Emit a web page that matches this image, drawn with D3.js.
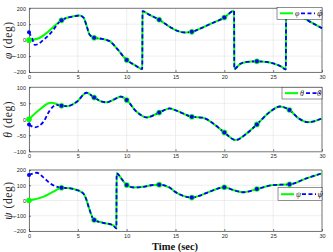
<!DOCTYPE html>
<html><head><meta charset="utf-8">
<script src="https://cdn.jsdelivr.net/npm/d3@7"></script>
<style>
body{margin:0;background:#fff;}
svg{display:block;}
.tick text{font-family:"Liberation Sans",Arial,sans-serif;font-size:5.5px;fill:#262626;}
</style></head><body>
<svg id="c" width="333" height="252"></svg>
<script>
// ---- data ----
const xTicks = [0,5,10,15,20,25,30];
const markerTimes = [0,3.33,6.67,10,13.33,16.67,20,23.33,26.67];

const phiTicks = [-200,-100,0,100,200];
const phiActualStart = [[0,0],[1,12],[2,55],[2.8,100]];
const phiDesiredStart = [[0,50],[0.3,12],[0.6,-30],[1,-22],[1.5,3],[2.5,65],[2.9,100]];
const phiShared = [[3.33,125],[4,142],[4.6,150],[5.2,155],[5.6,140],[5.9,90],[6.2,35],[6.67,15],[7.5,8],[8.3,-8],[9.1,-60],[10,-125],[10.8,-155],[11.6,-182],[11.62,182],[12.3,160],[13.33,128],[14.5,80],[15.2,58],[16,48],[16.67,52],[17.5,72],[18.5,100],[20,142],[21,184],[21.02,-182],[21.6,-150],[22.3,-137],[23.33,-133],[24.3,-137],[25,-146],[25.8,-165],[26.3,-184],[26.32,182],[26.67,172],[27.9,146],[29,108],[30,75]];

const thetaTicks = [-100,-50,0,50,100];
const thetaActualStart = [[0,0],[1,28],[2,50],[2.3,52],[2.8,48]];
const thetaDesiredStart = [[0,-16],[0.6,-25],[1.5,-7],[2.15,29],[2.8,45]];
const thetaShared = [[3.33,42],[3.9,41],[4.9,55],[5.9,83],[6.67,68],[7.3,57],[7.95,53],[8.7,62],[9.4,71],[10,60],[11,24],[12.05,6],[13.33,21],[14.4,34],[15.1,27],[16.67,8],[17.8,5],[18.85,-13],[20,-41],[21.15,-65],[22.3,-44],[23.33,-16],[24.7,24],[25.7,40],[26.67,29],[27.6,3],[28.6,-9],[30,3]];

const psiTicks = [-200,-100,0,100,200];
const psiActualStart = [[0,0],[1.5,25],[2.5,58]];
const psiDesiredStart = [[0,167],[0.8,182],[1.5,150],[2.15,113],[2.8,91]];
const psiShared = [[3.33,84],[4.2,80],[4.9,69],[5.55,47],[5.85,10],[6.1,-41],[6.67,-128],[7.5,-145],[8.6,-162],[8.95,-183],[8.97,178],[9.5,140],[10,101],[10.65,86],[11.7,90],[12.5,100],[13.33,104],[14.4,85],[14.8,64],[15.8,30],[16.67,19],[17.5,32],[18.5,58],[20,87],[20.9,69],[21.9,54],[23.33,75],[25,101],[26.67,106],[28.4,145],[30,178]];

const yLabels = ["\u03C6","\u03B8","\u03C8"];
const xLabel = "Time (sec)";

// ---- drawing ----
const svg = d3.select("#c");
const x = d3.scaleLinear().domain([0,30]).range([29,322]);
const panels = [
  {top:8.3, bottom:72, domain:[-200,200], ticks:phiTicks, act:phiActualStart.concat(phiShared), des:phiDesiredStart.concat(phiShared), sym:yLabels[0], leg:{x:277,y:7.3,w:45,h:12}},
  {top:87.3, bottom:151.3, domain:[-100,100], ticks:thetaTicks, act:thetaActualStart.concat(thetaShared), des:thetaDesiredStart.concat(thetaShared), sym:yLabels[1], leg:{x:282,y:87.3,w:40,h:11.7}},
  {top:170, bottom:231, domain:[-200,200], ticks:psiTicks, act:psiActualStart.concat(psiShared), des:psiDesiredStart.concat(psiShared), sym:yLabels[2], leg:{x:278,y:187.7,w:44,h:13}}
];

panels.forEach(p=>{
  const y = d3.scaleLinear().domain(p.domain).range([p.bottom,p.top]);
  const g = svg.append("g");
  g.append("g").selectAll("line").data(xTicks).join("line")
    .attr("x1",d=>x(d)).attr("x2",d=>x(d)).attr("y1",p.top).attr("y2",p.bottom)
    .attr("stroke","#e3e3e3").attr("stroke-width",0.6);
  g.append("g").selectAll("line").data(p.ticks).join("line")
    .attr("x1",x(0)).attr("x2",x(30)).attr("y1",d=>y(d)).attr("y2",d=>y(d))
    .attr("stroke","#e3e3e3").attr("stroke-width",0.6);
  const ax = g.append("g").attr("transform",`translate(0,${p.bottom})`)
    .call(d3.axisBottom(x).tickValues(xTicks).tickSizeInner(-2).tickSizeOuter(0).tickPadding(3));
  const ay = g.append("g").attr("transform",`translate(${x(0)},0)`)
    .call(d3.axisLeft(y).tickValues(p.ticks).tickSizeInner(-2).tickSizeOuter(0).tickPadding(3));
  [ax,ay].forEach(a=>{a.selectAll("path,line").attr("stroke","#262626").attr("stroke-width",0.6);});
  g.append("line").attr("x1",x(0)).attr("x2",x(30)).attr("y1",p.top).attr("y2",p.top).attr("stroke","#262626").attr("stroke-width",0.6);
  g.append("line").attr("x1",x(30)).attr("x2",x(30)).attr("y1",p.top).attr("y2",p.bottom).attr("stroke","#262626").attr("stroke-width",0.6);

  const line = d3.line().x(d=>x(d[0])).y(d=>y(d[1])).curve(d3.curveMonotoneX);
  g.append("path").attr("d",line(p.act)).attr("fill","none").attr("stroke","#00ff00").attr("stroke-width",2);
  g.append("path").attr("d",line(p.des)).attr("fill","none").attr("stroke","#0000ff").attr("stroke-width",1.8).attr("stroke-dasharray","4,2.5");
  g.append("g").selectAll("circle").data(p.act.filter(d=>markerTimes.includes(d[0]))).join("circle")
    .attr("cx",d=>x(d[0])).attr("cy",d=>y(d[1])).attr("r",2.8).attr("fill","#00ff00");
  g.append("g").selectAll("circle").data(p.des.filter(d=>markerTimes.includes(d[0]))).join("circle")
    .attr("cx",d=>x(d[0])).attr("cy",d=>y(d[1])).attr("r",2).attr("fill","#0000ff");

  const cy = (p.top+p.bottom)/2;
  const t = g.append("text").attr("transform",`translate(12,${cy}) rotate(-90)`).attr("text-anchor","middle")
    .attr("font-family","'Liberation Serif','DejaVu Serif',serif").attr("font-size",11.5).attr("letter-spacing",0.6).attr("fill","#262626");
  t.append("tspan").attr("font-style","italic").text(p.sym);
  t.append("tspan").text(" (deg)");

  const L = p.leg;
  const lg = g.append("g");
  lg.append("rect").attr("x",L.x).attr("y",L.y).attr("width",L.w).attr("height",L.h).attr("fill","#fff").attr("stroke","#262626").attr("stroke-width",0.5);
  const ly = L.y+L.h/2;
  lg.append("line").attr("x1",L.x+3).attr("x2",L.x+16).attr("y1",ly).attr("y2",ly).attr("stroke","#00ff00").attr("stroke-width",2);
  lg.append("text").attr("x",L.x+18).attr("y",ly+2.5).attr("font-family","'Liberation Serif','DejaVu Serif',serif").attr("font-style","italic").attr("font-size",8).attr("fill","#262626").text(p.sym);
  lg.append("line").attr("x1",L.x+24).attr("x2",L.x+38).attr("y1",ly).attr("y2",ly).attr("stroke","#0000ff").attr("stroke-width",1.8).attr("stroke-dasharray","4,2.5");
  lg.append("text").attr("x",L.x+L.w-5).attr("y",ly+2.5).attr("font-family","'DejaVu Serif',serif").attr("font-style","italic").attr("font-size",7.5).attr("fill","#262626").text(p.sym+"\u0302");
});

svg.append("text").attr("x",175).attr("y",250).attr("text-anchor","middle")
  .attr("font-family","'Liberation Serif','DejaVu Serif',serif").attr("font-weight","bold").attr("font-size",10.5).attr("fill","#111").text(xLabel);
</script></body></html>
